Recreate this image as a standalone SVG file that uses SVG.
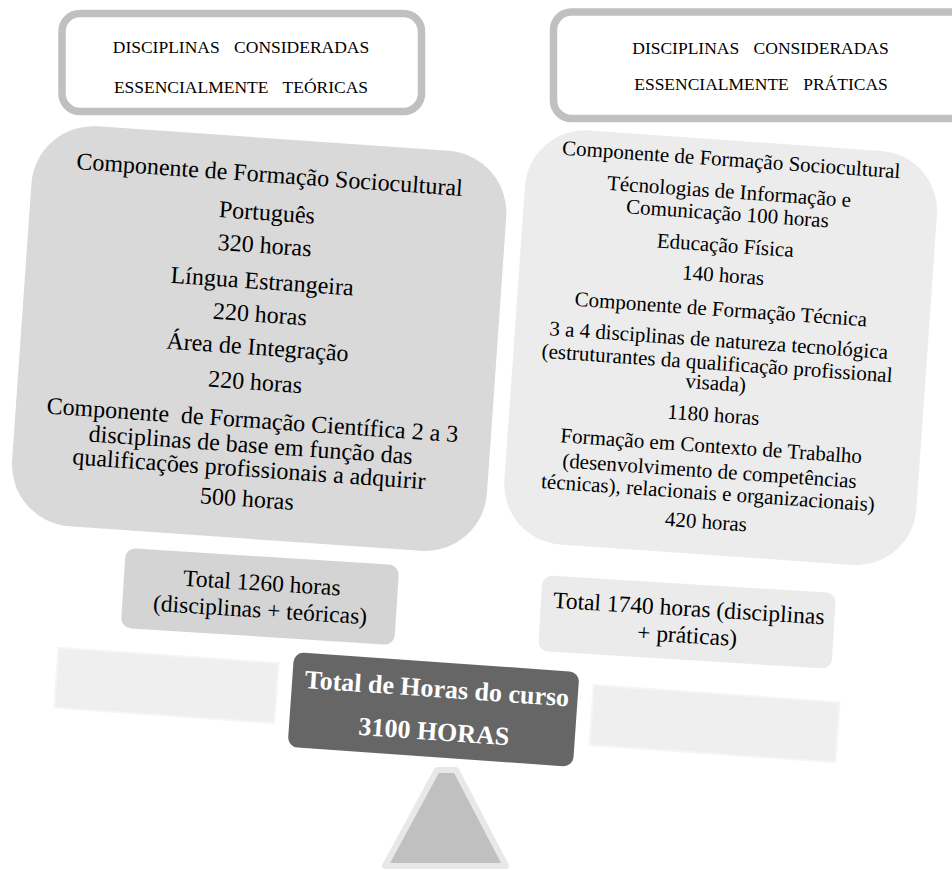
<svg xmlns="http://www.w3.org/2000/svg" width="952" height="870" viewBox="0 0 952 870">
<style>
text { font-family: "Liberation Serif", "Times New Roman", serif; fill: #000; text-anchor: middle; }
.hdr { font-size: 17.5px; word-spacing: 10px; }
.hbox { fill: #fff; stroke: #c0c0c0; stroke-width: 7.5; }
.lt { font-size: 24px; }
.rt { font-size: 21px; }
.tot { font-size: 23.5px; }
.ctr { font-size: 26px; font-weight: bold; fill: #fff; }
.beam { fill: #efefef; stroke: #f5f5f5; stroke-width: 2; }
</style>

<g id="beam">
  <g transform="translate(447,705) rotate(4)">
    <rect class="beam" x="-391.5" y="-30" width="220.5" height="60"/>
    <rect class="beam" x="145" y="-30" width="246.5" height="60"/>
  </g>
</g>

<g id="fulcrum">
  <polygon points="437,770 456,770 506,866 385,866" fill="#c0c0c0" stroke="#e8e8e8" stroke-width="6" stroke-linejoin="round"/>
</g>

<g id="header-teoricas">
  <rect class="hbox" x="62" y="13.5" width="359.5" height="98" rx="18"/>
  <text class="hdr" x="241" y="53">DISCIPLINAS CONSIDERADAS</text>
  <text class="hdr" x="241" y="92.5">ESSENCIALMENTE TEÓRICAS</text>
</g>

<g id="header-praticas">
  <rect class="hbox" x="553.5" y="12" width="420" height="106.5" rx="18"/>
  <text class="hdr" x="760.5" y="54">DISCIPLINAS CONSIDERADAS</text>
  <text class="hdr" x="761" y="90">ESSENCIALMENTE PRÁTICAS</text>
</g>

<g id="teoricas" transform="translate(258,341) rotate(4)">
  <rect x="-237" y="-203" width="476" height="401" rx="62" fill="#d9d9d9"/>
  <text class="lt" x="0" y="-159">Componente de Formação Sociocultural</text>
  <text class="lt" x="0" y="-121">Português</text>
  <text class="lt" x="0" y="-88">320 horas</text>
  <text class="lt" x="0" y="-52">Língua Estrangeira</text>
  <text class="lt" x="0" y="-19">220 horas</text>
  <text class="lt" x="0" y="14">Área de Integração</text>
  <text class="lt" x="0" y="49">220 horas</text>
  <text class="lt" x="0" y="87">Componente&#160; de Formação Científica 2 a 3</text>
  <text class="lt" x="0" y="112">disciplinas de base em função das</text>
  <text class="lt" x="0" y="136">qualificações profissionais a adquirir</text>
  <text class="lt" x="0" y="166">500 horas</text>
</g>

<g id="praticas" transform="translate(718,350) rotate(4)">
  <rect x="-204" y="-210" width="413" height="415" rx="60" fill="#ececec"/>
  <text class="rt" x="0" y="-184">Componente de Formação Sociocultural</text>
  <text class="rt" x="0" y="-152">Técnologias de Informação e</text>
  <text class="rt" x="0" y="-130">Comunicação 100 horas</text>
  <text class="rt" x="0" y="-98">Educação Física</text>
  <text class="rt" x="0" y="-68">140 horas</text>
  <text class="rt" x="0" y="-34">Componente de Formação Técnica</text>
  <text class="rt" x="0" y="-3">3 a 4 disciplinas de natureza tecnológica</text>
  <text class="rt" x="0" y="20">(estruturantes da qualificação profissional</text>
  <text class="rt" x="0" y="40">visada)</text>
  <text class="rt" x="0" y="72">1180 horas</text>
  <text class="rt" x="0" y="103">Formação em Contexto de Trabalho</text>
  <text class="rt" x="0" y="128">(desenvolvimento de competências</text>
  <text class="rt" x="0" y="150">técnicas), relacionais e organizacionais)</text>
  <text class="rt" x="0" y="179">420 horas</text>
</g>

<g id="total-teoricas" transform="translate(260,596.5) rotate(3.6)">
  <rect x="-137" y="-40" width="274" height="80" rx="10" fill="#d4d4d4"/>
  <text class="tot" x="1" y="-6">Total 1260 horas</text>
  <text class="tot" x="1" y="21">(disciplinas + teóricas)</text>
</g>

<g id="total-praticas" transform="translate(687,622) rotate(3.5)">
  <rect x="-147" y="-38" width="294" height="76" rx="10" fill="#ebebeb"/>
  <text class="tot" x="1" y="-6">Total 1740 horas (disciplinas</text>
  <text class="tot" x="1" y="21">+ práticas)</text>
</g>

<g id="total-curso" transform="translate(433.5,709.5) rotate(4)">
  <rect x="-143" y="-47.5" width="286" height="95" rx="10" fill="#666666"/>
  <text class="ctr" x="2" y="-12.5">Total de Horas do curso</text>
  <text class="ctr" x="2" y="30.5">3100 HORAS</text>
</g>
</svg>
